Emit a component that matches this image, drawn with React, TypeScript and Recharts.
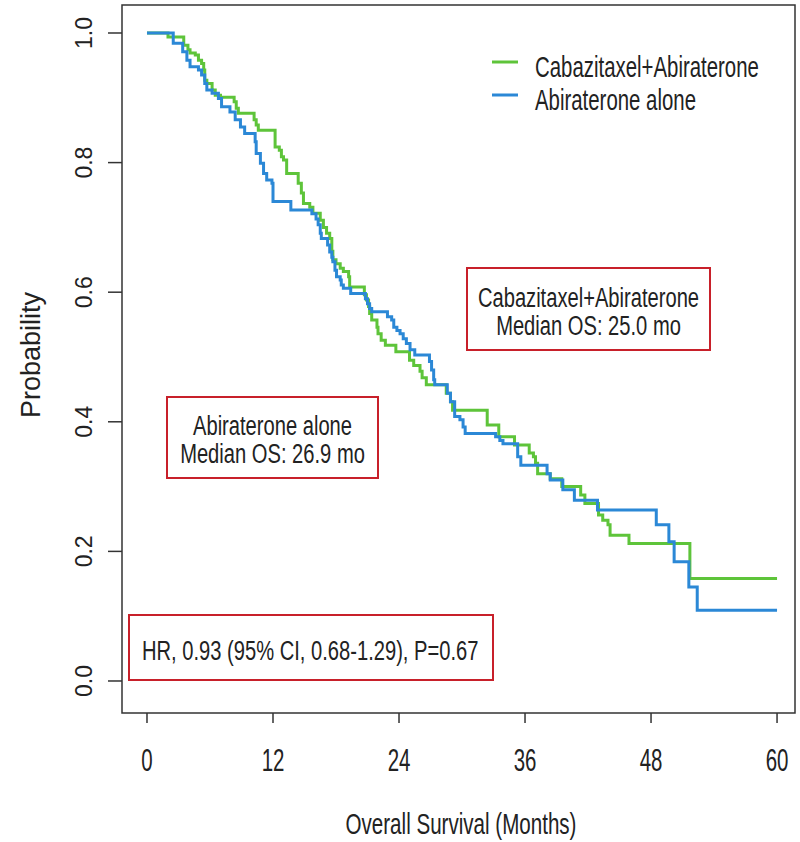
import React from "react";
import { Legend, Line, LineChart, ReferenceArea, XAxis, YAxis } from "recharts";

// Kaplan-Meier steps (time in months, survival probability after the step)
const CABA_T = [0, 2.0, 3.5, 3.9, 4.1, 4.6, 4.9, 5.2, 5.4, 5.5, 5.7, 6.2, 6.5, 7.0, 8.3, 8.5, 8.7, 10.2, 10.4, 10.6, 12.2, 12.6, 12.8, 13.0, 13.3, 14.4, 14.7, 14.9, 15.5, 15.8, 16.5, 16.8, 17.1, 17.4, 17.6, 17.7, 18.0, 18.4, 18.7, 19.2, 19.3, 20.7, 20.9, 21.1, 21.2, 21.4, 21.9, 22.0, 22.3, 22.7, 23.7, 25.0, 25.4, 26.0, 26.2, 26.6, 28.5, 28.9, 29.1, 32.4, 33.5, 35.0, 36.4, 36.8, 37.0, 37.2, 38.4, 39.5, 41.3, 41.7, 43.0, 43.4, 43.9, 44.1, 45.9, 51.7, 60];
const CABA_S = [1, 0.994, 0.981, 0.974, 0.969, 0.966, 0.958, 0.953, 0.943, 0.927, 0.922, 0.912, 0.904, 0.901, 0.894, 0.884, 0.876, 0.866, 0.858, 0.85, 0.824, 0.819, 0.809, 0.804, 0.783, 0.768, 0.753, 0.737, 0.731, 0.722, 0.711, 0.7, 0.691, 0.683, 0.663, 0.65, 0.644, 0.637, 0.632, 0.624, 0.608, 0.596, 0.588, 0.578, 0.567, 0.557, 0.546, 0.536, 0.526, 0.518, 0.508, 0.495, 0.487, 0.478, 0.468, 0.457, 0.444, 0.431, 0.418, 0.395, 0.377, 0.364, 0.352, 0.346, 0.336, 0.32, 0.312, 0.3, 0.287, 0.274, 0.256, 0.248, 0.241, 0.225, 0.212, 0.158, 0.158];

const ABI_T = [0, 2.5, 3.4, 3.8, 4.1, 4.9, 5.2, 5.5, 5.7, 6.2, 6.8, 7.1, 7.9, 8.4, 8.9, 9.3, 10.3, 10.4, 10.8, 11.1, 11.4, 11.9, 12.0, 13.7, 15.7, 16.1, 16.3, 16.5, 16.6, 17.2, 17.4, 17.6, 17.7, 17.9, 18.05, 18.4, 18.5, 18.7, 19.4, 20.8, 21.0, 21.2, 21.4, 22.9, 23.3, 23.5, 23.8, 24.1, 24.4, 24.7, 25.05, 25.5, 26.9, 27.1, 27.3, 27.4, 28.6, 28.9, 29.3, 29.8, 30.1, 30.3, 33.2, 33.6, 33.9, 35.3, 35.6, 38.1, 38.4, 39.6, 40.7, 42.9, 48.5, 49.7, 50.2, 51.6, 52.4, 60];
const ABI_S = [1, 0.984, 0.971, 0.958, 0.948, 0.943, 0.935, 0.922, 0.912, 0.907, 0.899, 0.886, 0.878, 0.866, 0.855, 0.845, 0.832, 0.814, 0.799, 0.783, 0.773, 0.768, 0.74, 0.727, 0.721, 0.713, 0.704, 0.691, 0.683, 0.673, 0.662, 0.654, 0.647, 0.634, 0.624, 0.619, 0.611, 0.606, 0.598, 0.59, 0.582, 0.575, 0.57, 0.562, 0.557, 0.546, 0.541, 0.536, 0.528, 0.521, 0.511, 0.503, 0.493, 0.48, 0.465, 0.457, 0.444, 0.431, 0.408, 0.403, 0.392, 0.382, 0.377, 0.371, 0.366, 0.346, 0.333, 0.32, 0.31, 0.295, 0.279, 0.264, 0.241, 0.215, 0.184, 0.145, 0.109, 0.109];

const X_TICKS = [0, 12, 24, 36, 48, 60];
const Y_TICKS = [0, 0.2, 0.4, 0.6, 0.8, 1.0];

const SERIES_NAMES = ["Cabazitaxel+Abiraterone", "Abiraterone alone"];
const ANNOT_CABA = ["Cabazitaxel+Abiraterone", "Median OS: 25.0 mo"];
const ANNOT_ABI = ["Abiraterone alone", "Median OS: 26.9 mo"];
const ANNOT_HR = "HR, 0.93 (95% CI, 0.68-1.29), P=0.67";

const cabaData = CABA_T.map((t, i) => ({ t, s: CABA_S[i] }));
const abiData = ABI_T.map((t, i) => ({ t, s: ABI_S[i] }));

const FONT = "'Liberation Sans', Arial, Helvetica, sans-serif";
const INK = "#222";
const GREEN = "#5ec43a";
const BLUE = "#2b88d6";
const RED = "#c8202a";
const X_DOMAIN = [-2.38, 61.71];
const Y_DOMAIN = [-0.0494, 1.0432];

// condensed text, like the original figure
const Narrow = ({ x, y, size = 30, sx = 0.68, anchor = "middle", children }: any) => (
  <text
    transform={`translate(${x},${y}) scale(${sx},1)`}
    textAnchor={anchor}
    fontSize={size}
    fontFamily={FONT}
    fill={INK}
  >
    {children}
  </text>
);

const XTick = ({ x, y, payload }: any) => (
  <Narrow x={x} y={y + 46} size={31} sx={0.66}>
    {payload.value}
  </Narrow>
);

const YTick = ({ x, y, payload }: any) => (
  <text
    transform={`translate(${x - 14},${y}) rotate(-90)`}
    textAnchor="middle"
    fontSize={23}
    fontFamily={FONT}
    fill={INK}
  >
    {Number(payload.value).toFixed(1)}
  </text>
);

const LegendBox = ({ payload }: any) => {
  const items = [...(payload || [])].sort(
    (a: any, b: any) => SERIES_NAMES.indexOf(a.value) - SERIES_NAMES.indexOf(b.value)
  );
  return (
    <svg width={290} height={70}>
      {items.map((item: any, i: number) => {
        const cy = i === 0 ? 17 : 50;
        return (
          <g key={item.value}>
            <line x1={2} x2={28} y1={cy} y2={cy} stroke={item.color} strokeWidth={3} />
            <Narrow x={45} y={cy + 15} anchor="start">
              {item.value}
            </Narrow>
          </g>
        );
      })}
    </svg>
  );
};

const Annotations = () => (
  <svg
    width={800}
    height={842}
    style={{ position: "absolute", left: 0, top: 0, pointerEvents: "none" }}
  >
    <rect x={467} y={268} width={243} height={82} fill="none" stroke={RED} strokeWidth={2} />
    <Narrow x={588.5} y={307} size={28} sx={0.72}>{ANNOT_CABA[0]}</Narrow>
    <Narrow x={588.5} y={335} size={28} sx={0.72}>{ANNOT_CABA[1]}</Narrow>

    <rect x={167} y={397} width={211} height={81} fill="none" stroke={RED} strokeWidth={2} />
    <Narrow x={272.5} y={435} size={28} sx={0.72}>{ANNOT_ABI[0]}</Narrow>
    <Narrow x={272.5} y={463} size={28} sx={0.72}>{ANNOT_ABI[1]}</Narrow>

    <rect x={129} y={615} width={364} height={65} fill="none" stroke={RED} strokeWidth={2} />
    <Narrow x={142} y={660} size={28} sx={0.72} anchor="start">{ANNOT_HR}</Narrow>
  </svg>
);

export default function App() {
  return (
    <div style={{ position: "absolute", left: 0, top: 0, width: 800, height: 842, background: "#fff" }}>
      <LineChart width={800} height={842} margin={{ top: 5, right: 5, bottom: 0, left: 0 }}>
        <XAxis
          type="number"
          dataKey="t"
          domain={X_DOMAIN}
          ticks={X_TICKS}
          allowDataOverflow
          height={129}
          tickSize={10}
          axisLine={false}
          tickLine={{ stroke: "#333", strokeWidth: 1.5 }}
          tick={<XTick />}
          label={{
            content: () => (
              <Narrow x={461} y={834} size={29} sx={0.71}>
                Overall Survival (Months)
              </Narrow>
            ),
          }}
        />
        <YAxis
          type="number"
          domain={Y_DOMAIN}
          ticks={Y_TICKS}
          allowDataOverflow
          width={122}
          tickSize={14}
          axisLine={false}
          tickLine={{ stroke: "#333", strokeWidth: 1.5 }}
          tick={<YTick />}
          label={{
            content: () => (
              <text
                transform="translate(40,355) rotate(-90)"
                textAnchor="middle"
                fontSize={27}
                fontFamily={FONT}
                fill={INK}
              >
                Probability
              </text>
            ),
          }}
        />
        <ReferenceArea
          x1={X_DOMAIN[0]}
          x2={X_DOMAIN[1]}
          y1={Y_DOMAIN[0]}
          y2={Y_DOMAIN[1]}
          fill="none"
          stroke="#333"
          strokeWidth={1.5}
        />
        <Line
          data={cabaData}
          dataKey="s"
          name={SERIES_NAMES[0]}
          type="stepAfter"
          stroke={GREEN}
          strokeWidth={3}
          dot={false}
          isAnimationActive={false}
        />
        <Line
          data={abiData}
          dataKey="s"
          name={SERIES_NAMES[1]}
          type="stepAfter"
          stroke={BLUE}
          strokeWidth={3}
          dot={false}
          isAnimationActive={false}
        />
        <Legend
          layout="vertical"
          align="center"
          verticalAlign="middle"
          wrapperStyle={{ position: "absolute", left: 490, top: 45, width: 290, height: 70 }}
          content={<LegendBox />}
        />
      </LineChart>
      <Annotations />
    </div>
  );
}
